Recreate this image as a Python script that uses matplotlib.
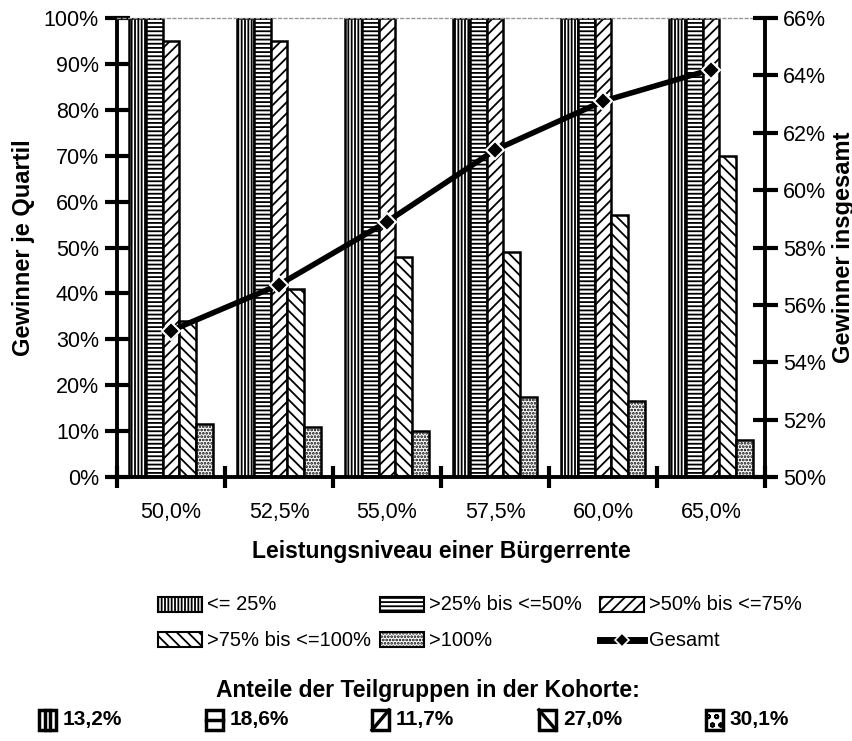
import numpy as np
import matplotlib
matplotlib.use("Agg")
import matplotlib.pyplot as plt
from matplotlib.patches import Rectangle
from matplotlib.lines import Line2D

plt.rcParams['font.family'] = ['Liberation Sans', 'DejaVu Sans']
plt.rcParams['hatch.linewidth'] = 1.3

categories = ['50,0%', '52,5%', '55,0%', '57,5%', '60,0%', '65,0%']
q1 = [100, 100, 100, 100, 100, 100]
q2 = [100, 100, 100, 100, 100, 100]
q3 = [95, 95, 100, 100, 100, 100]
q4 = [34, 41, 48, 49, 57, 70]
q5 = [11.5, 11, 10, 17.5, 16.5, 8]
gesamt = [55.1, 56.7, 58.9, 61.4, 63.1, 64.2]

series_names = ['<= 25%', '>25% bis <=50%', '>50% bis <=75%',
                '>75% bis <=100%', '>100%']
shares = ['13,2%', '18,6%', '11,7%', '27,0%', '30,1%']
hatches = ['|||||', '----', '///', '\\\\\\', '.....']

W, H = 853, 741
fig = plt.figure(figsize=(W / 100, H / 100), dpi=100)
ax = fig.add_axes([117 / W, 1 - 477 / H, (765 - 117) / W, (477 - 18) / H])

x = np.arange(len(categories))
bw = 0.157
for i, vals in enumerate([q1, q2, q3, q4, q5]):
    ax.bar(x + (i - 2) * bw, vals, bw, color='white', edgecolor='black',
           linewidth=1.8, hatch=hatches[i], zorder=2)

ax.set_xlim(-0.5, 5.5)
ax.set_ylim(0, 100)
ax.set_yticks(np.arange(0, 101, 10))
ax.set_yticklabels([f'{v}%' for v in range(0, 101, 10)], fontsize=15.5)
ax.set_xticks(np.arange(-0.5, 5.6, 1))
ax.set_xticklabels([])
ax.set_xticks(x, minor=True)
ax.set_xticklabels(categories, minor=True, fontsize=15.5)
ax.tick_params(axis='x', which='minor', length=0, pad=18)
ax.tick_params(axis='x', which='major', direction='inout', length=16, width=3)
ax.tick_params(axis='y', direction='inout', length=18, width=3, pad=4)

for s in ['left', 'bottom']:
    ax.spines[s].set_linewidth(2.8)
ax.spines['right'].set_visible(False)
ax.spines['top'].set_color('#999999')
ax.spines['top'].set_linestyle((0, (2, 2)))
ax.spines['top'].set_linewidth(1)

ax.set_ylabel('Gewinner je Quartil', fontsize=17, fontweight='bold', labelpad=6)
ax.set_xlabel('Leistungsniveau einer Bürgerrente', fontsize=16.5, fontweight='bold',
              labelpad=12)

ax2 = ax.twinx()
ax2.set_ylim(50, 66)
ax2.set_yticks(np.arange(50, 67, 2))
ax2.set_yticklabels([f'{v}%' for v in range(50, 67, 2)], fontsize=15.5)
ax2.tick_params(axis='y', direction='inout', length=18, width=3, pad=4)
ax2.spines['right'].set_linewidth(2.8)
for s in ['left', 'top', 'bottom']:
    ax2.spines[s].set_visible(False)
ax2.plot(x, gesamt, color='black', linewidth=4, marker='D', markersize=9,
         markerfacecolor='black', markeredgecolor='white', markeredgewidth=1.5,
         zorder=3)
ax2.set_ylabel('Gewinner insgesamt', fontsize=17, fontweight='bold', labelpad=4)


def px(x0, y0):
    return x0 / W, 1 - y0 / H


def patch(x0, y0, w, h, hatch, lw=1.5):
    fx, fy = px(x0, y0 + h)
    r = Rectangle((fx, fy), w / W, h / H, transform=fig.transFigure,
                  facecolor='white', edgecolor='black', linewidth=lw, hatch=hatch)
    fig.add_artist(r)


# legend: three columns
col_x = [158, 380, 600]
pw = 44
leg = [(0, 605, 0), (1, 605, 1), (2, 605, 2), (0, 640, 3), (1, 640, 4)]
for c, ly, i in leg:
    lx = col_x[c]
    patch(lx, ly - 8, pw, 15, hatches[i])
    fig.text(*px(lx + pw + 5, ly), series_names[i], fontsize=14.5,
             va='center', ha='left')
gx = col_x[2]
fig.add_artist(Line2D([gx / W, (gx + pw) / W], [1 - 640 / H, 1 - 640 / H],
                      transform=fig.transFigure, color='black', linewidth=5))
fig.add_artist(Line2D([(gx + pw / 2) / W], [1 - 640 / H], transform=fig.transFigure,
                      marker='D', markersize=7, color='black',
                      markeredgecolor='white', markeredgewidth=1.2))
fig.text(*px(gx + pw + 5, 640), 'Gesamt', fontsize=14.5, va='center', ha='left')

fig.text(*px(428, 690), 'Anteile der Teilgruppen in der Kohorte:', fontsize=16.5,
         fontweight='bold', ha='center', va='center')

sym_x = [39, 206, 372, 539, 706]
sym_hatch = ['', '', '', '', 'oo']
for i, sx in enumerate(sym_x):
    sy = 710
    patch(sx, sy, 17, 20, sym_hatch[i], lw=2.5)
    x0, x1 = sx / W, (sx + 17) / W
    y0, y1 = 1 - (sy + 20) / H, 1 - sy / H
    if i == 0:
        for fr in (1 / 3, 2 / 3):
            xx = x0 + (x1 - x0) * fr
            fig.add_artist(Line2D([xx, xx], [y0, y1], transform=fig.transFigure,
                                  color='black', linewidth=2.5))
    elif i == 1:
        ym = (y0 + y1) / 2
        fig.add_artist(Line2D([x0, x1], [ym, ym], transform=fig.transFigure,
                              color='black', linewidth=2.5))
    elif i == 2:
        fig.add_artist(Line2D([x0, x1], [y0, y1], transform=fig.transFigure,
                              color='black', linewidth=2.5))
    elif i == 3:
        fig.add_artist(Line2D([x0, x1], [y1, y0], transform=fig.transFigure,
                              color='black', linewidth=2.5))
    fig.text(*px(sx + 24, 720), shares[i], fontsize=15, fontweight='bold',
             va='center', ha='left')

fig.savefig('out.png', dpi=100)
